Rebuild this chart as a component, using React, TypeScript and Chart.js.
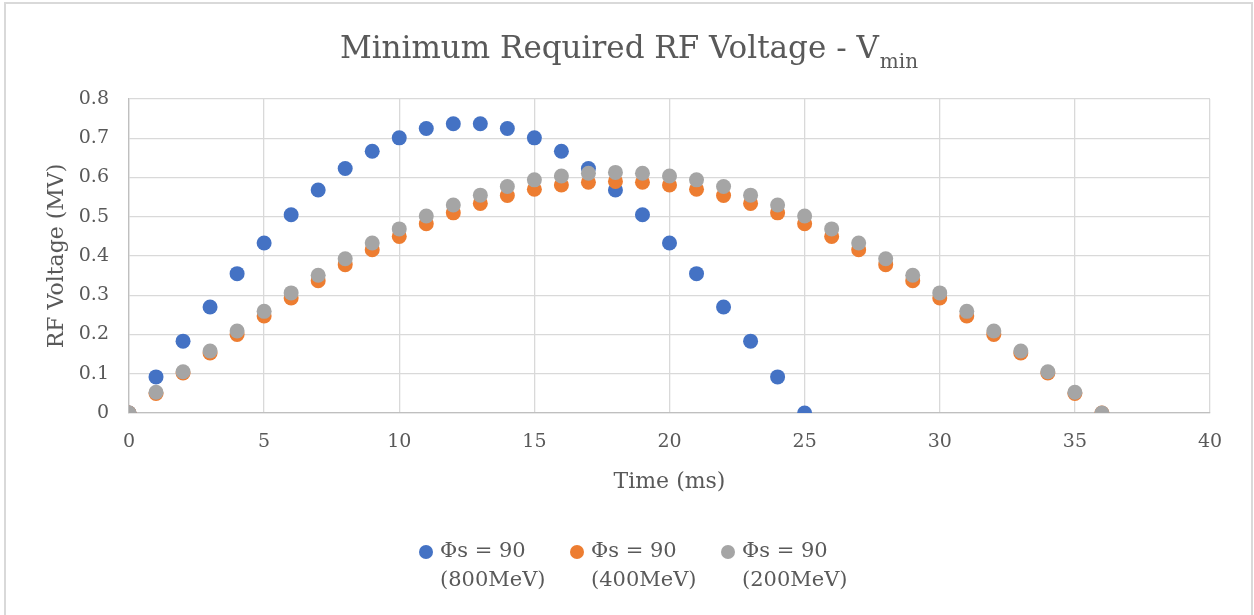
import React, { useEffect, useRef } from 'react';
import { Chart, registerables } from 'chart.js';

Chart.register(...registerables);

// ---- data ----
const times800 = [0, 1, 2, 3, 4, 5, 6, 7, 8, 9, 10, 11, 12, 13, 14, 15, 16, 17, 18, 19, 20, 21, 22, 23, 24, 25];
const times400 = [0, 1, 2, 3, 4, 5, 6, 7, 8, 9, 10, 11, 12, 13, 14, 15, 16, 17, 18, 19, 20, 21, 22, 23, 24, 25, 26, 27, 28, 29, 30, 31, 32, 33, 34, 35, 36];
const times200 = [0, 1, 2, 3, 4, 5, 6, 7, 8, 9, 10, 11, 12, 13, 14, 15, 16, 17, 18, 19, 20, 21, 22, 23, 24, 25, 26, 27, 28, 29, 30, 31, 32, 33, 34, 35, 36];

const vmin800 = [0, 0.092, 0.183, 0.27, 0.355, 0.433, 0.505, 0.568, 0.623, 0.667, 0.701, 0.725, 0.737, 0.737, 0.725, 0.701, 0.667, 0.623, 0.568, 0.505, 0.433, 0.355, 0.27, 0.183, 0.092, 0];
const vmin400 = [0, 0.05, 0.102, 0.153, 0.2, 0.247, 0.293, 0.337, 0.378, 0.416, 0.45, 0.482, 0.51, 0.534, 0.554, 0.57, 0.581, 0.588, 0.59, 0.588, 0.581, 0.57, 0.554, 0.534, 0.51, 0.482, 0.45, 0.416, 0.378, 0.337, 0.293, 0.247, 0.2, 0.153, 0.102, 0.05, 0];
const vmin200 = [0, 0.053, 0.105, 0.158, 0.209, 0.259, 0.306, 0.351, 0.393, 0.433, 0.469, 0.502, 0.53, 0.555, 0.577, 0.594, 0.604, 0.611, 0.613, 0.611, 0.604, 0.594, 0.577, 0.555, 0.53, 0.502, 0.469, 0.433, 0.393, 0.351, 0.306, 0.259, 0.209, 0.158, 0.105, 0.053, 0];

const seriesLabels = ['Φs = 90\n(800MeV)', 'Φs = 90\n(400MeV)', 'Φs = 90\n(200MeV)'];
const seriesColors = ['#4472C4', '#ED7D31', '#A5A5A5'];

const titleMain = 'Minimum Required RF Voltage - V';
const titleSub = 'min';
const xTitle = 'Time (ms)';
const yTitle = 'RF Voltage (MV)';
const xMin = 0, xMax = 40, xStep = 5;
const yMin = 0, yMax = 0.8, yStep = 0.1;

const FONT = "'DejaVu Serif', serif";
const TEXT = '#595959';
const GRID = '#d9d9d9';
const AXIS = '#bfbfbf';

const framePlugin = {
  id: 'frame',
  beforeDraw(chart: any) {
    const ctx = chart.ctx;
    ctx.save();
    ctx.fillStyle = '#ffffff';
    ctx.fillRect(0, 0, chart.width, chart.height);
    ctx.strokeStyle = GRID;
    ctx.lineWidth = 2;
    ctx.strokeRect(5, 3, 1247, 700);
    ctx.restore();
  },
};

const titlePlugin = {
  id: 'subTitle',
  afterDraw(chart: any) {
    const ctx = chart.ctx;
    ctx.save();
    ctx.fillStyle = TEXT;
    ctx.textBaseline = 'alphabetic';
    ctx.textAlign = 'left';
    const mainFont = `31px ${FONT}`;
    const subFont = `20px ${FONT}`;
    ctx.font = mainFont;
    const w1 = ctx.measureText(titleMain).width;
    ctx.font = subFont;
    const w2 = ctx.measureText(titleSub).width;
    const x0 = 629 - (w1 + w2 + 1) / 2;
    ctx.font = mainFont;
    ctx.fillText(titleMain, x0, 58);
    ctx.font = subFont;
    ctx.fillText(titleSub, x0 + w1 + 1, 68);
    ctx.restore();
  },
};

// Legend drawn by a plugin so the two-line labels render like the reference
const legendPlugin = {
  id: 'twoLineLegend',
  afterDraw(chart: any) {
    const ctx = chart.ctx;
    const datasets = chart.data.datasets;
    const step = 151;
    const startX = 426; // first marker centre
    const y0 = 552;
    const lineGap = 29;
    ctx.save();
    ctx.font = `21px ${FONT}`;
    ctx.textBaseline = 'middle';
    ctx.textAlign = 'left';
    datasets.forEach((ds: any, i: number) => {
      const cx = startX + i * step;
      ctx.beginPath();
      ctx.arc(cx, y0, 7, 0, Math.PI * 2);
      ctx.fillStyle = ds.backgroundColor;
      ctx.fill();
      ctx.fillStyle = TEXT;
      String(ds.label).split('\n').forEach((line: string, j: number) => {
        ctx.fillText(line, cx + 14, y0 + j * lineGap);
      });
    });
    ctx.restore();
  },
};

function makeData(xs: number[], ys: number[]) {
  return xs.map((x, i) => ({ x, y: ys[i] }));
}

export default function App() {
  const ref = useRef<HTMLCanvasElement | null>(null);

  useEffect(() => {
    if (!ref.current) return;
    const common = {
      pointRadius: 7.5,
      pointHoverRadius: 7.5,
      borderWidth: 0,
      pointBorderWidth: 0,
      showLine: false,
    };
    const chart = new Chart(ref.current, {
      type: 'scatter',
      data: {
        datasets: [
          { ...common, label: seriesLabels[0], data: makeData(times800, vmin800), backgroundColor: seriesColors[0], borderColor: seriesColors[0], order: 3 },
          { ...common, label: seriesLabels[1], data: makeData(times400, vmin400), backgroundColor: seriesColors[1], borderColor: seriesColors[1], order: 2 },
          { ...common, label: seriesLabels[2], data: makeData(times200, vmin200), backgroundColor: seriesColors[2], borderColor: seriesColors[2], order: 1 },
        ],
      },
      options: {
        responsive: false,
        animation: false,
        layout: { padding: { left: 56, right: 44, top: 99, bottom: 84 } },
        plugins: {
          title: { display: false },
          tooltip: { enabled: false },
          legend: { display: false },
        },
        scales: {
          x: {
            type: 'linear',
            min: xMin,
            max: xMax,
            ticks: { stepSize: xStep, padding: 18, color: TEXT, font: { family: FONT, size: 19 } },
            grid: { color: GRID, lineWidth: 1.3, drawTicks: false },
            border: { color: AXIS, width: 1.3 },
            title: { display: true, text: xTitle, color: TEXT, font: { family: FONT, size: 22 }, padding: { top: 0, bottom: 36 } },
            afterFit: (s: any) => { s.height = 118; },
          },
          y: {
            type: 'linear',
            min: yMin,
            max: yMax,
            ticks: {
              stepSize: yStep,
              padding: 20,
              color: TEXT,
              font: { family: FONT, size: 19 },
              callback: (v: any) => (Number(v) === 0 ? '0' : Number(v).toFixed(1)),
            },
            grid: { color: GRID, lineWidth: 1.3, drawTicks: false },
            border: { color: AXIS, width: 1.3 },
            title: { display: true, text: yTitle, color: TEXT, font: { family: FONT, size: 22 }, padding: { top: -12, bottom: 0 } },
            afterFit: (s: any) => { s.width = 73; },
          },
        },
      },
      plugins: [framePlugin, titlePlugin, legendPlugin],
    } as any);
    return () => chart.destroy();
  }, []);

  return (
    <div style={{ position: 'absolute', left: 0, top: 0, width: 1254, height: 615 }}>
      <canvas ref={ref} width={1254} height={615} style={{ display: 'block' }} />
    </div>
  );
}
